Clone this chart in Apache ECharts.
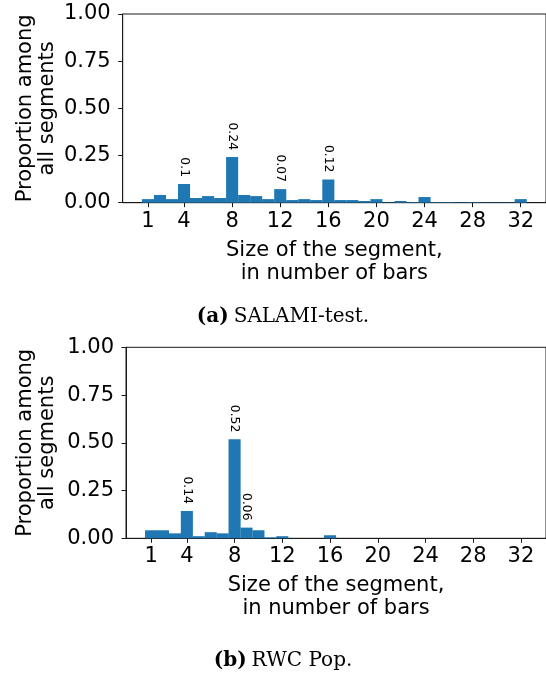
<!DOCTYPE html>
<html>
<head>
<meta charset="utf-8">
<script src="https://cdn.jsdelivr.net/npm/echarts@6/dist/echarts.min.js"></script>
<style>
html,body{margin:0;padding:0;background:#fff;}
#chart{width:546px;height:675px;}
</style>
</head>
<body>
<div id="chart"></div>
<script>
// ---- data ----
const segmentSizes = Array.from({length: 32}, (_, i) => i + 1);
const salamiValues = [0.019,0.041,0.019,0.099,0.025,0.035,0.025,0.242,0.041,0.035,0.019,0.072,0.014,0.019,0.014,0.123,
                      0.014,0.014,0.009,0.019,0.002,0.009,0.003,0.030,0.003,0.003,0.002,0.003,0.002,0.002,0.002,0.019];
const rwcValues    = [0.042,0.042,0.026,0.143,0.011,0.032,0.026,0.518,0.056,0.042,0.005,0.011,0,0,0,0.016,
                      0,0,0,0,0,0,0,0,0,0,0,0,0,0,0,0];
const xTickValues = [1,4,8,12,16,20,24,28,32];
const yTickInterval = 0.25;
const captionA = ['(a)', 'SALAMI-test.'];
const captionB = ['(b)', 'RWC Pop.'];
const xAxisTitle = 'Size of the segment,\nin number of bars';
const yAxisTitle = 'Proportion among\nall segments';
const labelThreshold = 0.05;

// ---- layout ----
const xMin = -1.1, xMax = 34.1;
const grids = [
  {left: 122.7, top: 14, height: 188.7, width: 425.4},
  {left: 126, top: 347.3, height: 191, width: 425.4}
];
const font = 'DejaVu Sans';
const axisColor = '#1a1a1a';

function fmtLabel(v) { return String(Math.round(v * 100) / 100); }

const chart = echarts.init(document.getElementById('chart'), null, {renderer: 'canvas'});

const xAxes = grids.map((g, i) => ({
  type: 'value', gridIndex: i, min: xMin, max: xMax,
  splitLine: {show: false},
  axisLine: {show: true, onZero: false, lineStyle: {color: axisColor, width: 1}},
  axisTick: {show: true, customValues: xTickValues, length: 4.5, lineStyle: {color: axisColor, width: 1}},
  axisLabel: {show: true, customValues: xTickValues, fontFamily: font, fontSize: 21, color: '#000', margin: 8},
  name: xAxisTitle, nameLocation: 'middle', nameGap: 36, nameMoveOverlap: false,
  nameTextStyle: {fontFamily: font, fontSize: 21, color: '#000', lineHeight: 23}
}));

const yAxes = grids.map((g, i) => ({
  type: 'value', gridIndex: i, min: 0, max: 1, interval: yTickInterval,
  splitLine: {show: false},
  axisLine: {show: true, onZero: false, lineStyle: {color: axisColor, width: 1}},
  axisTick: {show: true, length: 4.5, lineStyle: {color: axisColor, width: 1}},
  axisLabel: {fontFamily: font, fontSize: 21, color: '#000', margin: 12, formatter: v => v.toFixed(2)},
  name: yAxisTitle, nameLocation: 'middle', nameGap: 64 + (i === 1 ? 3 : 0), nameRotate: 90,
  nameMoveOverlap: false,
  nameTextStyle: {fontFamily: font, fontSize: 21, color: '#000', lineHeight: 22}
}));

function barSeries(values, i) {
  const unit = grids[i].width / (xMax - xMin);
  return {
    type: 'bar', xAxisIndex: i, yAxisIndex: i,
    data: segmentSizes.map((s, k) => [s, values[k]]),
    barWidth: unit, barGap: '-100%',
    itemStyle: {color: '#1f77b4'},
    label: {
      show: true, position: 'top', distance: 7, rotate: -90,
      align: 'right', verticalAlign: 'middle',
      fontFamily: font, fontSize: 12.4, color: '#000',
      formatter: p => (p.value[1] >= labelThreshold ? fmtLabel(p.value[1]) : '')
    },
    silent: true, animation: false
  };
}

function caption(parts, top) {
  return {
    text: '{b|' + parts[0] + '} {n|' + parts[1] + '}',
    left: 278, top: top, textAlign: 'center',
    textStyle: {
      fontWeight: 'normal',
      rich: {
        b: {fontFamily: 'DejaVu Serif', fontSize: 20, fontWeight: 'bold', color: '#000'},
        n: {fontFamily: 'DejaVu Serif', fontSize: 20, fontWeight: 'normal', color: '#000'}
      }
    }
  };
}

chart.setOption({
  animation: false,
  backgroundColor: '#fff',
  title: [caption(captionA, 302), caption(captionB, 646)],
  grid: grids.map(g => ({
    left: g.left, top: g.top, width: g.width, height: g.height,
    show: true, borderColor: axisColor, borderWidth: 1, backgroundColor: 'transparent', containLabel: false
  })),
  xAxis: xAxes,
  yAxis: yAxes,
  series: [barSeries(salamiValues, 0), barSeries(rwcValues, 1)]
});
</script>
</body>
</html>
